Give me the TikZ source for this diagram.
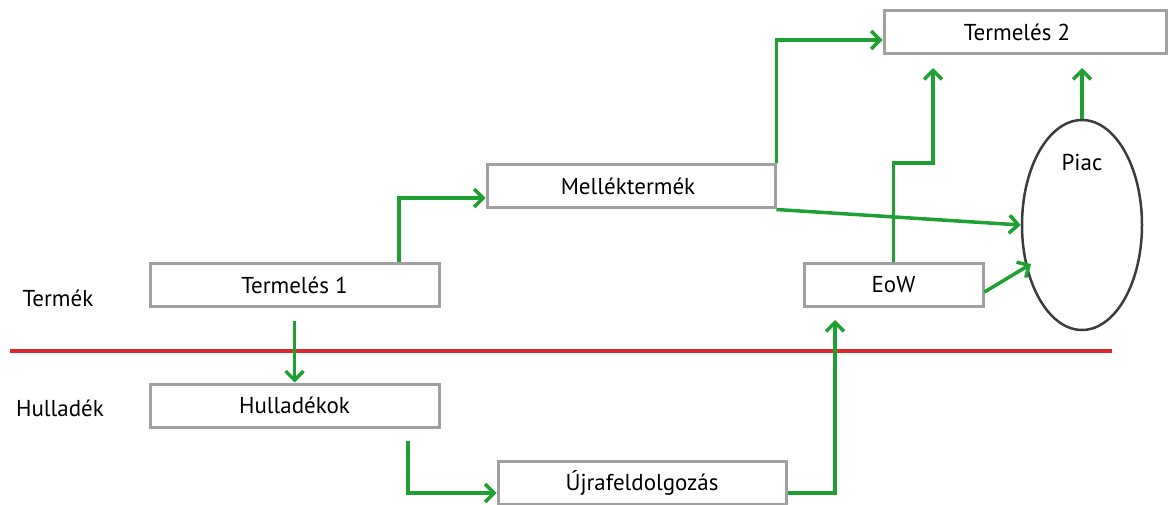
\documentclass[tikz,border=0pt]{standalone}
\usepackage{fontspec}
\setmainfont{PT Sans}
\usetikzlibrary{arrows.meta,shapes.geometric,calc}
\definecolor{arrgreen}{RGB}{30,160,50}
\definecolor{boxgray}{RGB}{160,160,160}
\definecolor{redline}{RGB}{220,40,40}
\definecolor{ellgray}{RGB}{60,60,60}
\begin{document}
\begin{tikzpicture}[x=1pt,y=-1pt,
  font=\fontsize{23}{27}\selectfont,
  box/.style={draw=boxgray,line width=3pt,fill=white,inner sep=0pt,minimum height=43pt},
  arr/.style={draw=arrgreen,line width=3.5pt,-{Straight Barb[length=9pt,width=18pt,line width=3.5pt]}},
  lbl/.style={inner sep=0pt}]
\useasboundingbox (0,0) rectangle (1168,505);
% separator
\coordinate (rl) at (10,351);
\coordinate (rr) at (1112,351);
\draw[redline,line width=3.5pt] (rl) -- (rr);
% boxes
\node[box,minimum width=282pt] (t2) at (1025,32) {\hspace*{-16pt}Termelés 2};
\node[box,minimum width=288pt] (mk) at (631,186.5) {\hspace*{-6pt}Melléktermék};
\node[box,minimum width=289pt] (t1) at (294.5,285) {Termelés 1};
\node[box,minimum width=179pt] (eow) at (893.5,285) {EoW};
\node[box,minimum width=289pt] (hk) at (294.5,405.5) {Hulladékok};
\node[box,minimum width=288pt] (uj) at (642,482.5) {Újrafeldolgozás};
\node[draw=ellgray,line width=2.5pt,ellipse,minimum width=120pt,minimum height=210pt,inner sep=0pt] (piac) at (1082,225) {};
\node[lbl] (piaclbl) at (1082,162) {Piac};
\node[lbl] (termek) at (58,298) {Termék};
\node[lbl] (hulladek) at (60,408) {Hulladék};
% coordinates
\coordinate (a2s) at (294.5,321);
\coordinate (a3s) at (408,441);
\coordinate (a4e) at (835,320);
\coordinate (a7m) at (933,163);
\coordinate (a7e) at (933,68);
\coordinate (a8e) at (1031,264);
\coordinate (a9e) at (1082,68);
% arrows
\draw[arr] (399,0 |- t1.north) |- (mk.west |- 0,198);
\draw[arr] (a2s) -- (hk.north);
\draw[arr] (a3s) |- (uj.west |- 0,493);
\draw[arr] (uj.east |- 0,493) -| (a4e);
\draw[arr] (mk.north east) |- (t2.west |- 0,40);
\draw[arr] (mk.south east) -- (piac.west);
\draw[arr] (eow.north) |- (a7m) -- (a7e);
\draw[arr] (eow.east |- 0,292) -- (a8e);
\draw[arr] (piac.north) -- (a9e);
\end{tikzpicture}
\end{document}
